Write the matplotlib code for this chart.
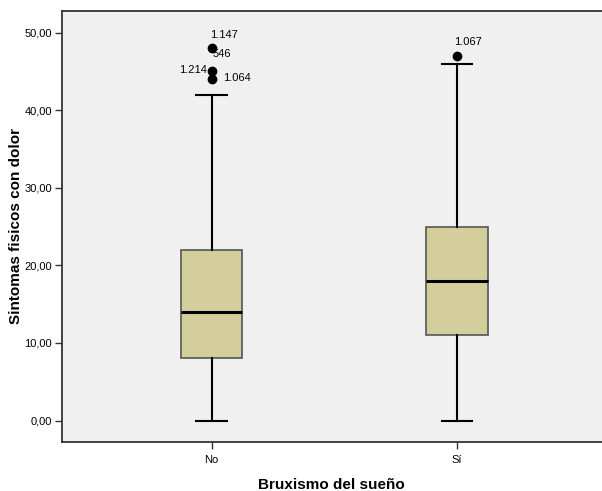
import matplotlib
matplotlib.use("Agg")
import matplotlib.pyplot as plt

categories = ["No", "Sí"]
whislo = [0, 0]
q1 = [8, 11]
med = [14, 18]
q3 = [22, 25]
whishi = [42, 46]
outliers = [[48, 45, 44], [47]]
yticks = [0, 10, 20, 30, 40, 50]
ytick_labels = ["0,00", "10,00", "20,00", "30,00", "40,00", "50,00"]

plt.rcParams['font.family'] = ['Liberation Sans', 'DejaVu Sans']

fig = plt.figure(figsize=(6.02, 4.91), dpi=100)
ax = fig.add_axes([0.1025, 0.0998, 0.8975, 0.8788])
ax.set_facecolor("#f0f0f0")

stats = []
for i in range(len(categories)):
    stats.append(dict(label=categories[i], whislo=whislo[i], q1=q1[i], med=med[i],
                      q3=q3[i], whishi=whishi[i], fliers=outliers[i]))

bp = ax.bxp(stats, positions=[1, 2], widths=0.25, patch_artist=True,
            boxprops=dict(facecolor="#d3ce9b", edgecolor="#555555", linewidth=1.2),
            medianprops=dict(color="black", linewidth=2.2),
            whiskerprops=dict(color="black", linewidth=1.5),
            capprops=dict(color="black", linewidth=1.5),
            flierprops=dict(marker="o", markerfacecolor="black", markeredgecolor="black",
                            markersize=6))
for c in bp['caps']:
    x = c.get_xdata()
    m = (x[0] + x[1]) / 2
    c.set_xdata([m - 0.0625, m + 0.0625])

# outlier labels
fs = 8
ax.annotate("1.147", (1, outliers[0][0]), xytext=(-1, 6), textcoords="offset points",
            fontsize=fs, ha="left", va="bottom")
ax.annotate("546", (1, outliers[0][0]), xytext=(1, -4), textcoords="offset points",
            fontsize=fs, ha="left", va="center")
ax.annotate("1.214", (1, outliers[0][1]), xytext=(-3, 1), textcoords="offset points",
            fontsize=fs, ha="right", va="center")
ax.annotate("1.064", (1, outliers[0][2]), xytext=(8, 1), textcoords="offset points",
            fontsize=fs, ha="left", va="center")
ax.annotate("1.067", (2, outliers[1][0]), xytext=(-2, 6), textcoords="offset points",
            fontsize=fs, ha="left", va="bottom")

ax.set_xlim(0.39, 2.59)
ax.set_ylim(-2.77, 52.84)
ax.set_yticks(yticks)
ax.set_yticklabels(ytick_labels, fontsize=8)
ax.set_xticks([1, 2])
ax.set_xticklabels(categories, fontsize=8)
ax.tick_params(axis="y", length=5, width=1, color="#333333", pad=2)
ax.tick_params(axis="x", length=5, width=1, color="#333333", pad=4.5)

for s in ["left", "bottom", "top"]:
    ax.spines[s].set_color("#333333")
    ax.spines[s].set_linewidth(1.3)
ax.spines["right"].set_visible(False)

ax.set_ylabel("Sintomas fisicos con dolor", fontsize=11, fontweight="bold", labelpad=1)
ax.set_xlabel("Bruxismo del sueño", fontsize=11, fontweight="bold", labelpad=9)

fig.savefig("out.png", dpi=100)
